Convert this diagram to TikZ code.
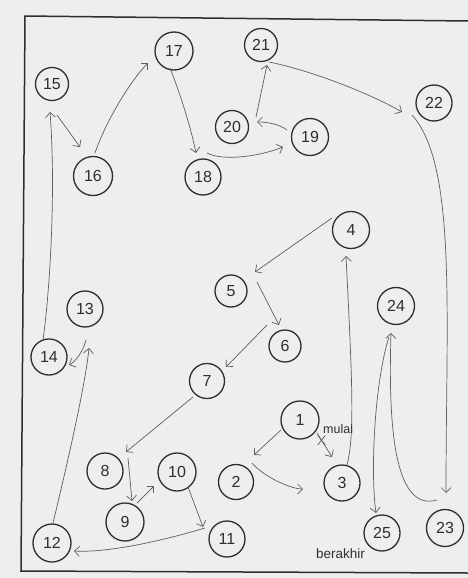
\documentclass[tikz,border=0pt]{standalone}
\usepackage{fontspec}
\setmainfont{Liberation Sans}
\usetikzlibrary{arrows.meta,calc,shapes.misc}
\definecolor{paper}{HTML}{ECEFED}
\definecolor{ink}{HTML}{2E2E2E}
\definecolor{pen}{HTML}{5E5E5E}
\begin{document}
\begin{tikzpicture}[x=1pt,y=-1pt,
  num/.style={circle,draw=ink,line width=1.3pt,inner sep=0pt,minimum size=36pt,text=ink,font=\fontsize{16}{16}\selectfont},
  link/.style={draw=pen,line width=0.7pt,-{Straight Barb[length=5pt,width=10pt]}},
  lbl/.style={text=ink,font=\fontsize{12.5}{13}\selectfont,inner sep=0pt,anchor=base west}]
\fill[paper] (0,0) rectangle (468,578);
\useasboundingbox (0,0) rectangle (468,578);
\draw[ink,line width=1.5pt] (468,21) -- (25,16) -- (21,571) -- (468,573);

\node[num,minimum size=38pt] (n1) at (300,420) {1};
\node[num,minimum size=35pt] (n2) at (236,482) {2};
\node[num] (n3) at (342,483) {3};
\node[num,minimum size=37pt] (n4) at (351,230) {4};
\node[num,minimum size=32pt] (n5) at (231,291) {5};
\node[num,minimum size=32pt] (n6) at (285,346) {6};
\node[num,minimum size=35pt] (n7) at (207,381) {7};
\node[num] (n8) at (105,471) {8};
\node[num,minimum size=38pt] (n9) at (125,522) {9};
\node[num,minimum size=38pt] (n10) at (177,472) {10};
\node[num] (n11) at (227,539) {11};
\node[num,minimum size=38pt] (n12) at (52,543) {12};
\node[num] (n13) at (85,309) {13};
\node[num] (n14) at (49,357) {14};
\node[num,minimum size=33pt] (n15) at (52,84) {15};
\node[num,minimum size=39pt] (n16) at (93,176) {16};
\node[num,minimum size=38pt] (n17) at (174,51) {17};
\node[num] (n18) at (203,177) {18};
\node[num,minimum size=37pt] (n19) at (310,137) {19};
\node[num,minimum size=33pt] (n20) at (232,127) {20};
\node[num,minimum size=33pt] (n21) at (261,45) {21};
\node[num] (n22) at (434,103) {22};
\node[num,minimum size=37pt] (n23) at (445,528) {23};
\node[num,minimum size=37pt] (n24) at (396,306) {24};
\node[num] (n25) at (382,533) {25};

\draw[link] ($(n1)+(-19,10)$) -- ($(n2)+(18,-27)$);
\draw[link] ($(n2)+(16,-19)$) .. controls +(12,14) and +(-12,0) .. ($(n3)+(-39,6)$);
\draw[link] ($(n1)+(17,13)$) -- node[pos=.3,cross out,draw=pen,line width=0.7pt,minimum width=7pt,minimum height=9pt,inner sep=0pt]{} ($(n3)+(-10,-26)$);
\draw[link] ($(n3)+(5,-18)$) .. controls +(8,-30) and +(6,120) .. ($(n4)+(-5,26)$);
\draw[link] ($(n4)+(-19,-12)$) -- ($(n5)+(24,-19)$);
\draw[link] ($(n5)+(26,-9)$) -- ($(n6)+(-6,-21)$);
\draw[link] ($(n6)+(-18,-21)$) -- ($(n7)+(19,-14)$);
\draw[link] ($(n7)+(-14,16)$) -- ($(n8)+(21,-19)$);
\draw[link] ($(n8)+(23,-13)$) -- ($(n9)+(7,-21)$);
\draw[link] ($(n9)+(12,-19)$) -- ($(n10)+(-23,14)$);
\draw[link] ($(n10)+(11,15)$) -- ($(n11)+(-24,-12)$);
\draw[link] ($(n11)+(-22,-11)$) .. controls +(-40,12) and +(35,2) .. ($(n12)+(22,8)$);
\draw[link] ($(n12)+(1,-20)$) .. controls +(12,-50) and +(-4,40) .. ($(n13)+(4,39)$);
\draw[link] ($(n13)+(1,31)$) .. controls +(-3,12) and +(6,-3) .. ($(n14)+(20,8)$);
\draw[link] ($(n14)+(-6,-17)$) .. controls +(7,-50) and +(6,78) .. ($(n15)+(-2,28)$);
\draw[link] ($(n15)+(5,31)$) -- ($(n16)+(-13,-29)$);
\draw[link] ($(n16)+(2,-23)$) .. controls +(10,-30) and +(-18,18) .. ($(n17)+(-26,12)$);
\draw[link] ($(n17)+(-4,17)$) .. controls +(10,25) and +(-5,-25) .. ($(n18)+(-7,-24)$);
\draw[link] ($(n18)+(4,-24)$) .. controls +(15,8) and +(-25,10) .. ($(n19)+(-27,10)$);
\draw[link] ($(n19)+(-23,-7)$) .. controls +(-8,-6) and +(10,0) .. ($(n20)+(25,-5)$);
\draw[link] ($(n20)+(24,-10)$) -- ($(n21)+(6,20)$);
\draw[link] ($(n21)+(8,17)$) .. controls +(40,8) and +(-35,-20) .. ($(n22)+(-32,9)$);
\draw[link] ($(n22)+(-22,12)$) .. controls +(45,50) and +(0,-180) .. ($(n23)+(1,-35)$);
\draw[link] ($(n23)+(-8,-28)$) .. controls +(-42,12) and +(-3,97) .. ($(n24)+(-5,27)$);
\draw[link] ($(n24)+(-7,31)$) .. controls +(-14,43) and +(-6,-43) .. ($(n25)+(-6,-20)$);

\node[lbl] (tstart) at (323,433) {mulai};
\node[lbl,font=\fontsize{13.5}{14}\selectfont] (tend) at (316,558) {berakhir};
\end{tikzpicture}
\end{document}
